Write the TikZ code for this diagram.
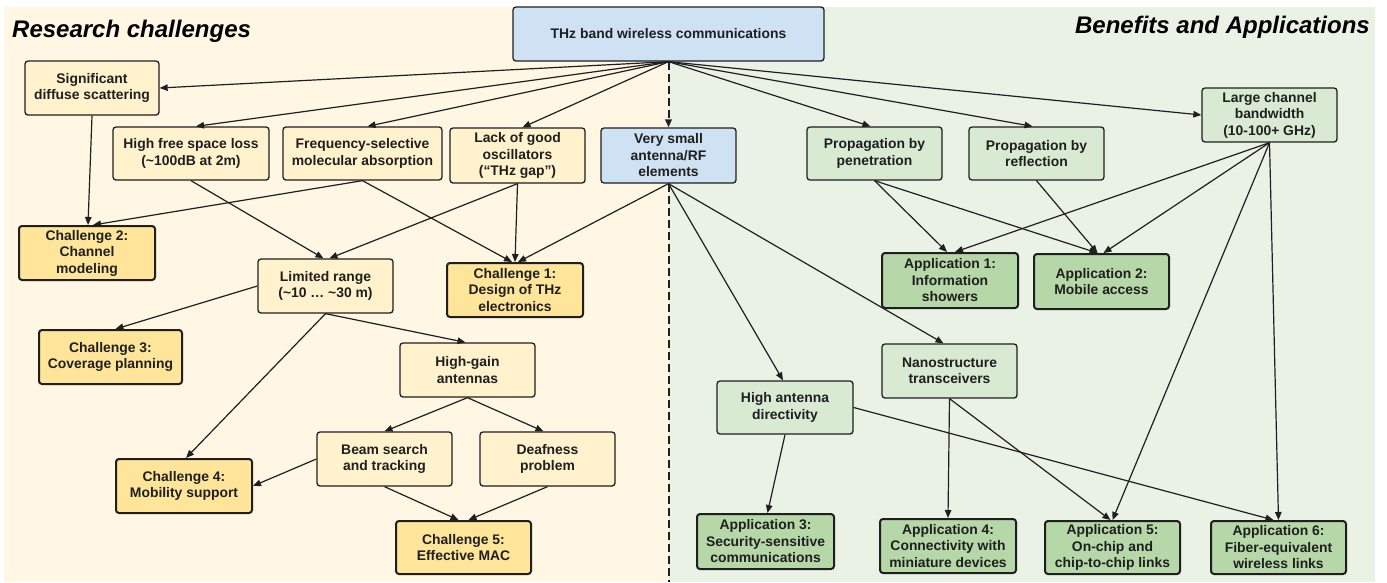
\documentclass[tikz,border=0pt]{standalone}
\usepackage{fontspec}
\setmainfont{Liberation Sans}
\usetikzlibrary{arrows.meta,calc}
\definecolor{bgL}{HTML}{FFF6E3}
\definecolor{bgR}{HTML}{E9F2E5}
\definecolor{ylw}{HTML}{FFF2CC}
\definecolor{ylwD}{HTML}{FFE599}
\definecolor{grn}{HTML}{D9EAD3}
\definecolor{grnD}{HTML}{B6D7A8}
\definecolor{blu}{HTML}{CFE2F3}
\definecolor{ink}{HTML}{1F1F1F}
\begin{document}
\begin{tikzpicture}[x=1pt,y=-1pt,
  box/.style={draw=ink, line width=1.3pt, rounded corners=3pt, align=center,
    font={\fontsize{13.9}{16.5}\selectfont\bfseries}, text=ink, inner sep=0pt,
    minimum width=135pt, minimum height=54pt},
  yb/.style={box, fill=ylw},
  yd/.style={box, fill=ylwD, line width=2pt},
  gb/.style={box, fill=grn},
  gd/.style={box, fill=grnD, line width=2pt},
  bb/.style={box, fill=blu},
  conn/.style={draw=ink, line width=1.2pt, -{Triangle[length=8pt,width=6.5pt]}},
  divider/.style={draw=ink, line width=2pt, dash pattern=on 8pt off 4pt},
  title/.style={font={\fontsize{24}{28}\selectfont\bfseries\itshape}, text=black, inner sep=0pt}
]
\useasboundingbox (0,0) rectangle (1387,582);
\fill[white] (0,0) rectangle (1387,582);
\fill[bgL] (4,7) rectangle (668.5,582);
\fill[bgR] (668.5,7) rectangle (1375,582);

\node[title, anchor=base west] (tL) at (12,37) {Research challenges};
\node[title, anchor=base east] (tR) at (1370,33) {Benefits and Applications};

% nodes
\node[bb, minimum width=311pt] (thz) at (668.5,34) {THz band wireless communications};
\node[yb, minimum width=134pt] (sig) at (92,88) {Significant\\diffuse scattering};
\node[yb, minimum width=156pt, minimum height=53pt] (hfsl) at (191,153.5) {High free space loss\\(\textasciitilde100dB at 2m)};
\node[yb, minimum width=159pt, minimum height=53pt] (fsa) at (362.5,153.5) {Frequency-selective\\molecular absorption};
\node[yb, minimum height=55pt] (lack) at (517.5,155.5) {Lack of good\\oscillators\\(“THz gap”)};
\node[bb, minimum height=55pt] (vsa) at (668.5,155.5) {Very small\\antenna/RF\\elements};
\node[gb, minimum height=53pt] (pen) at (874.5,153.5) {Propagation by\\penetration};
\node[gb, minimum height=53pt] (refl) at (1036.5,153.5) {Propagation by\\reflection};
\node[gb] (lcb) at (1269.5,115) {Large channel\\bandwidth\\(10-100+ GHz)};

\node[yd, minimum width=136pt] (ch2) at (87,253) {Challenge 2:\\Channel\\modeling};
\node[yb] (lr) at (325.5,286) {Limited range\\(\textasciitilde10 … \textasciitilde30 m)};
\node[yd, minimum width=136pt] (ch1) at (515,290) {Challenge 1:\\Design of THz\\electronics};
\node[yd, minimum width=143pt] (ch3) at (110.5,357) {Challenge 3:\\Coverage planning};
\node[yb] (hga) at (467.5,370) {High-gain\\antennas};
\node[yb] (bst) at (384.5,459) {Beam search\\and tracking};
\node[yb] (deaf) at (547.5,459) {Deafness\\problem};
\node[yd, minimum width=136pt] (ch4) at (184,486) {Challenge 4:\\Mobility support};
\node[yd, minimum height=53pt] (ch5) at (463.5,547.5) {Challenge 5:\\Effective MAC};

\node[gd, minimum width=136pt, minimum height=55pt] (app1) at (950,280.5) {Application 1:\\Information\\showers};
\node[gd, minimum height=55pt] (app2) at (1101.5,281.5) {Application 2:\\Mobile access};
\node[gb] (nano) at (949.5,371) {Nanostructure\\transceivers};
\node[gb, minimum width=136pt, minimum height=53pt] (had) at (785,407.5) {High antenna\\directivity};
\node[gd, minimum width=137pt, minimum height=55pt] (app3) at (765.5,541.5) {Application 3:\\Security-sensitive\\communications};
\node[gd, minimum width=136pt] (app4) at (948,546) {Application 4:\\Connectivity with\\miniature devices};
\node[gd, minimum height=53pt] (app5) at (1112.5,547.5) {Application 5:\\On-chip and\\chip-to-chip links};
\node[gd, minimum height=53pt] (app6) at (1278.5,547.5) {Application 6:\\Fiber-equivalent\\wireless links};

% divider
\coordinate (divend) at (668.5,582);
\draw[divider] (vsa.south) -- (divend);
\draw[divider, -{Triangle[length=8pt,width=6.5pt]}] (thz.south) -- (vsa.north);

% fan from THz
\draw[conn] (thz.south) -- (sig.east);
\draw[conn] (thz.south) -- ([xshift=5pt]hfsl.north);
\draw[conn] (thz.south) -- ([xshift=5pt]fsa.north);
\draw[conn] (thz.south) -- ([xshift=5pt]lack.north);
\draw[conn] (thz.south) -- ([xshift=-4pt]pen.north);
\draw[conn] (thz.south) -- ([xshift=-4pt]refl.north);
\draw[conn] (thz.south) -- (lcb.west);

% left side
\draw[conn] (sig.south) -- ([xshift=1pt]ch2.north);
\draw[conn] (fsa.south) -- ([xshift=6pt]ch2.north);
\draw[conn] (fsa.south) -- ([xshift=-3pt]ch1.north);
\draw[conn] (hfsl.south) -- ([xshift=-2pt]lr.north);
\draw[conn] (lack.south) -- ([xshift=4pt]lr.north);
\draw[conn] (lack.south) -- (ch1.north);
\draw[conn] (vsa.south) -- ([xshift=3pt]ch1.north);
\draw[conn] (lr.west) -- ([xshift=5pt]ch3.north);
\draw[conn] (lr.south) -- ([xshift=2pt]ch4.north);
\draw[conn] (lr.south) -- ([xshift=-2pt]hga.north);
\draw[conn] (hga.south) -- (bst.north);
\draw[conn] (hga.south) -- ([xshift=-4pt]deaf.north);
\draw[conn] (bst.west) -- (ch4.east);
\draw[conn] (bst.south) -- ([xshift=-5pt]ch5.north);
\draw[conn] (deaf.south) -- ([xshift=5pt]ch5.north);

% right side
\draw[conn] (vsa.south) -- ([xshift=-2pt]had.north);
\draw[conn] (vsa.south) -- ([xshift=-6pt]nano.north);
\draw[conn] (pen.south) -- ([xshift=-3pt]app1.north);
\draw[conn] (pen.south) -- ([xshift=-4pt]app2.north);
\draw[conn] (refl.south) -- ([xshift=-4pt]app2.north);
\draw[conn] (lcb.south) -- ([xshift=5pt]app1.north);
\draw[conn] (lcb.south) -- ([xshift=2pt]app2.north);
\draw[conn] (lcb.south) -- (app5.north);
\draw[conn] (lcb.south) -- (app6.north);
\draw[conn] (had.south) -- ([xshift=2pt]app3.north);
\draw[conn] (had.east) -- ([xshift=-5pt]app6.north);
\draw[conn] (nano.south) -- (app4.north);
\draw[conn] (nano.south) -- ([xshift=-2pt]app5.north);
\end{tikzpicture}
\end{document}
